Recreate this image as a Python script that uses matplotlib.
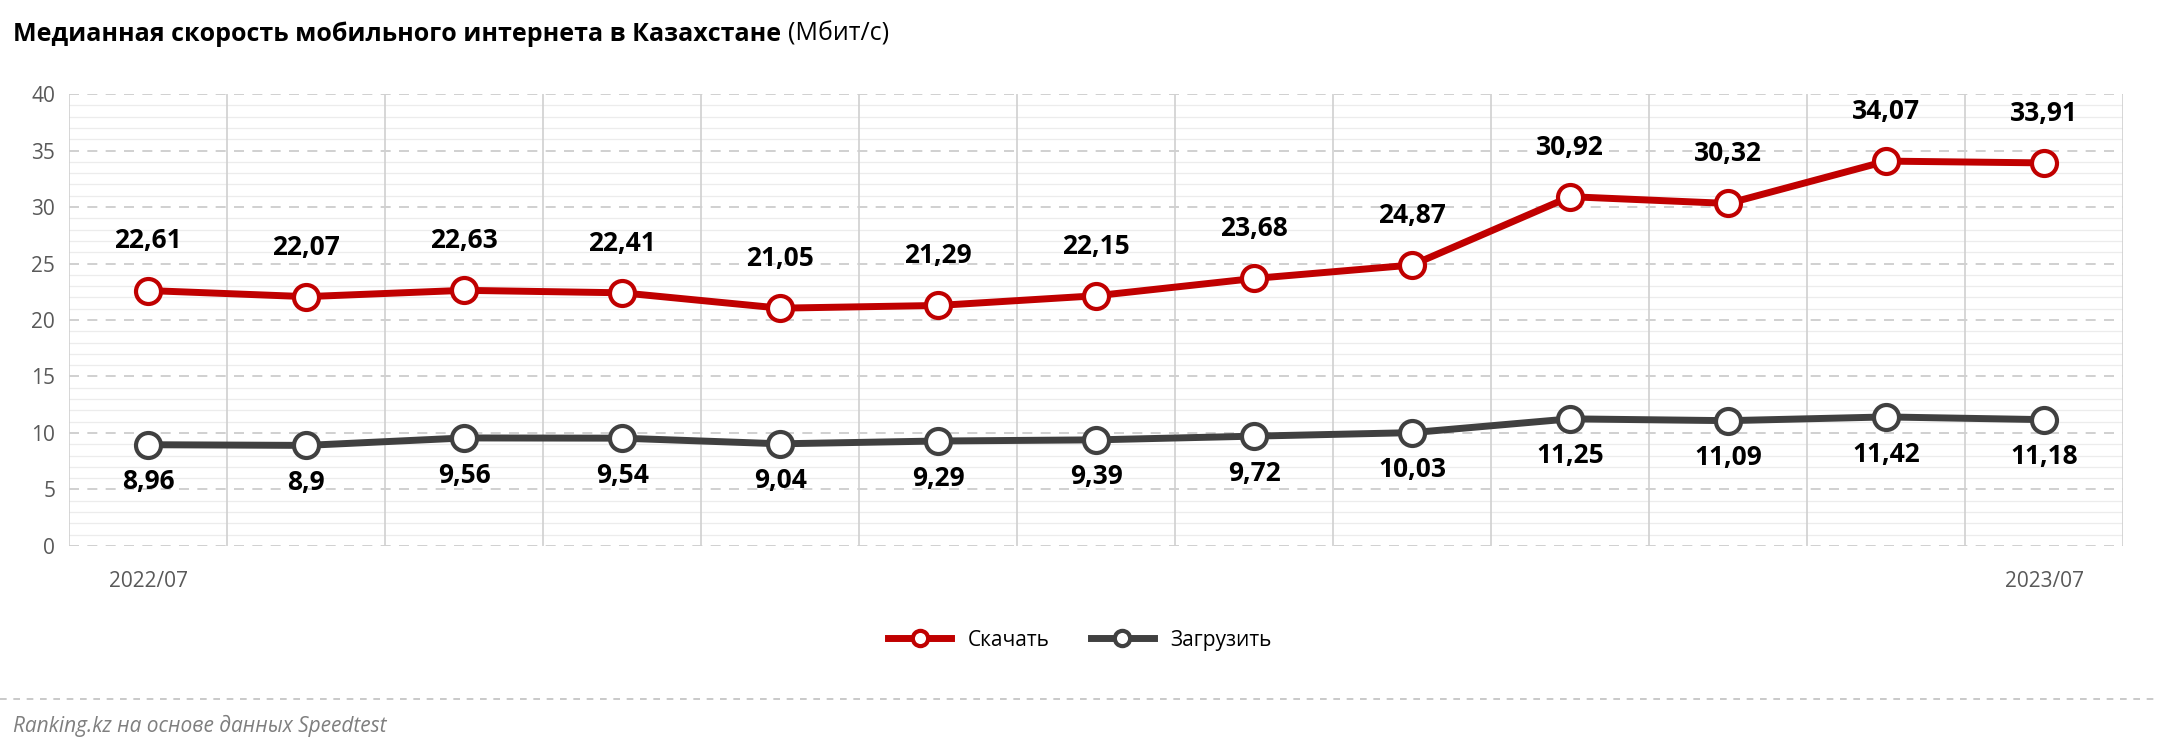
import matplotlib.pyplot as plt
import numpy as np
from matplotlib.lines import Line2D

plt.rcParams["font.family"] = ["Open Sans", "DejaVu Sans"]

months = ["2022/07", "2022/08", "2022/09", "2022/10", "2022/11", "2022/12", "2023/01",
          "2023/02", "2023/03", "2023/04", "2023/05", "2023/06", "2023/07"]
download = [22.61, 22.07, 22.63, 22.41, 21.05, 21.29, 22.15, 23.68, 24.87, 30.92, 30.32, 34.07, 33.91]
upload = [8.96, 8.9, 9.56, 9.54, 9.04, 9.29, 9.39, 9.72, 10.03, 11.25, 11.09, 11.42, 11.18]

red = "#c00000"
dark = "#404040"


def fmt(v):
    return f"{v:g}".replace(".", ",")


fig = plt.figure(figsize=(21.6, 7.53), dpi=100, facecolor="white")
ax = fig.add_axes([0.032, 0.275, 0.951, 0.600])
x = np.arange(len(months))

for y in range(0, 41):
    if y % 5 == 0:
        ax.axhline(y, color="#c8c8c8", lw=1.2, ls=(0, (6, 5)), zorder=1)
    else:
        ax.axhline(y, color="#ececec", lw=0.9, zorder=0)
for b in np.arange(-0.5, len(months) + 0.5, 1):
    ax.axvline(b, color="#d0d0d0", lw=1.2, zorder=1)

ax.plot(x, download, color=red, lw=5, marker="o", ms=18, mfc="white", mec=red, mew=3, zorder=3)
ax.plot(x, upload, color=dark, lw=5, marker="o", ms=18, mfc="white", mec=dark, mew=3, zorder=3)

for xi, v in zip(x, download):
    ax.annotate(fmt(v), (xi, v), xytext=(0, 26), textcoords="offset points",
                ha="center", va="bottom", fontsize=19, fontweight="bold")
for xi, v in zip(x, upload):
    ax.annotate(fmt(v), (xi, v), xytext=(0, -17), textcoords="offset points",
                ha="center", va="top", fontsize=19, fontweight="bold")

ax.set_xlim(-0.5, len(months) - 0.5)
ax.set_ylim(0, 40)
ax.set_yticks(range(0, 41, 5))
ax.set_xticks([0, len(months) - 1])
ax.set_xticklabels([months[0], months[-1]])
ax.tick_params(axis="both", length=0, labelsize=15, colors="#595959", pad=10)
ax.tick_params(axis="x", pad=18)
for s in ax.spines.values():
    s.set_visible(False)

t = fig.text(0.006, 0.955, "Медианная скорость мобильного интернета в Казахстане", fontsize=18,
             fontweight="bold", va="center", ha="left")
fig.canvas.draw()
bb = t.get_window_extent().transformed(fig.transFigure.inverted())
fig.text(bb.x1 + 0.003, 0.955, "(Мбит/с)", fontsize=18, va="center", ha="left")

handles = [
    Line2D([], [], color=red, lw=5, marker="o", ms=11, mfc="white", mec=red, mew=3),
    Line2D([], [], color=dark, lw=5, marker="o", ms=11, mfc="white", mec=dark, mew=3),
]
fig.legend(handles, ["Скачать", "Загрузить"], loc="center", bbox_to_anchor=(0.5, 0.15),
           ncol=2, frameon=False, fontsize=15, handlelength=3, columnspacing=2)

fig.add_artist(Line2D([0, 1], [0.072, 0.072], color="#c0c0c0", lw=1.2, ls=(0, (4, 4))))
fig.text(0.006, 0.036, "Ranking.kz на основе данных Speedtest", fontsize=15, style="italic",
         color="#7f7f7f", va="center", ha="left")

fig.savefig("out.png", dpi=100, facecolor="white")
